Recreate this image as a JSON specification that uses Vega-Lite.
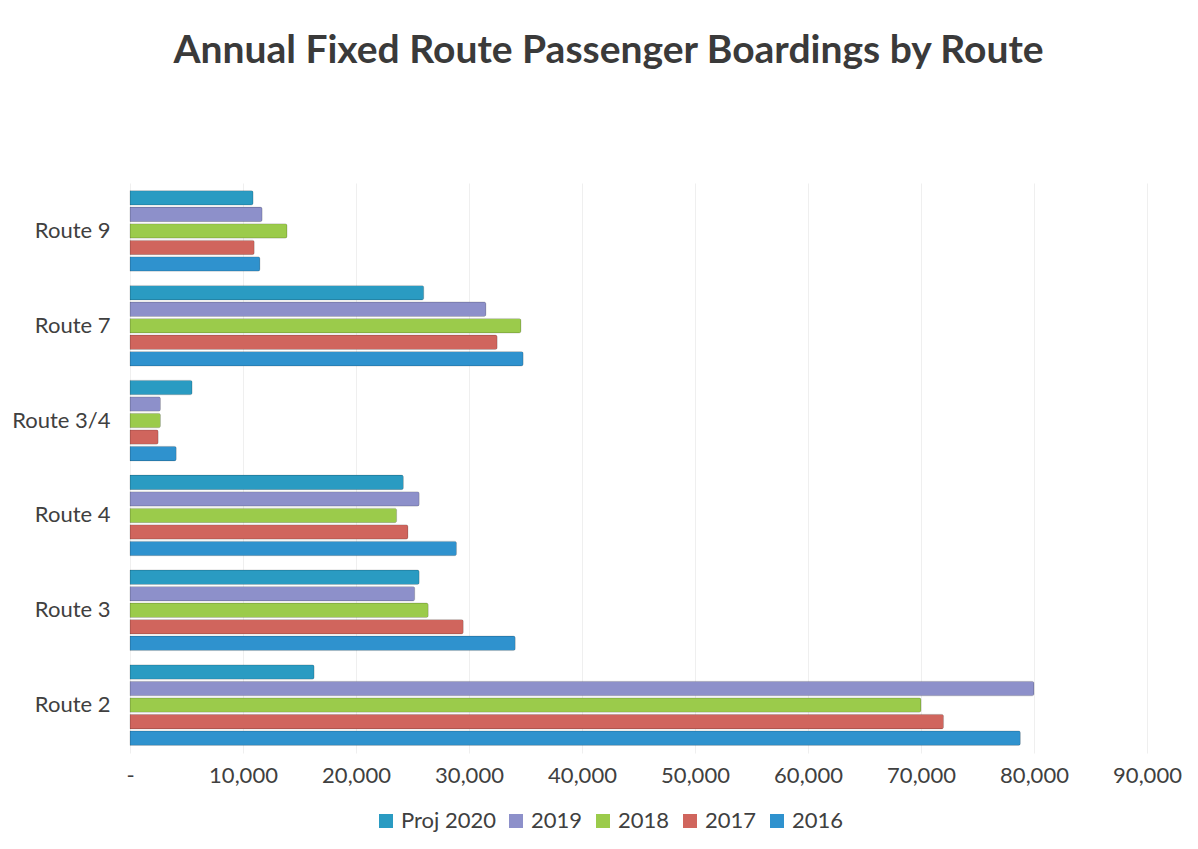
{
  "$schema": "https://vega.github.io/schema/vega-lite/v6.json",
  "width": 1017,
  "height": 570,
  "autosize": {"type": "none"},
  "padding": {"left": 130, "top": 183, "right": 51, "bottom": 96},
  "background": "white",
  "title": {
    "text": "Annual Fixed Route Passenger Boardings by Route",
    "anchor": "middle",
    "dx": -30,
    "offset": 112,
    "fontSize": 39,
    "font": "Lato",
    "fontWeight": "bold",
    "color": "#3a3a3a"
  },
  "data": {
    "values": [
      {"route": "Route 9", "series": "Proj 2020", "value": 10900},
      {"route": "Route 9", "series": "2019", "value": 11700},
      {"route": "Route 9", "series": "2018", "value": 13900},
      {"route": "Route 9", "series": "2017", "value": 11000},
      {"route": "Route 9", "series": "2016", "value": 11500},
      {"route": "Route 7", "series": "Proj 2020", "value": 26000},
      {"route": "Route 7", "series": "2019", "value": 31500},
      {"route": "Route 7", "series": "2018", "value": 34600},
      {"route": "Route 7", "series": "2017", "value": 32500},
      {"route": "Route 7", "series": "2016", "value": 34800},
      {"route": "Route 3/4", "series": "Proj 2020", "value": 5500},
      {"route": "Route 3/4", "series": "2019", "value": 2700},
      {"route": "Route 3/4", "series": "2018", "value": 2700},
      {"route": "Route 3/4", "series": "2017", "value": 2500},
      {"route": "Route 3/4", "series": "2016", "value": 4100},
      {"route": "Route 4", "series": "Proj 2020", "value": 24200},
      {"route": "Route 4", "series": "2019", "value": 25600},
      {"route": "Route 4", "series": "2018", "value": 23600},
      {"route": "Route 4", "series": "2017", "value": 24600},
      {"route": "Route 4", "series": "2016", "value": 28900},
      {"route": "Route 3", "series": "Proj 2020", "value": 25600},
      {"route": "Route 3", "series": "2019", "value": 25200},
      {"route": "Route 3", "series": "2018", "value": 26400},
      {"route": "Route 3", "series": "2017", "value": 29500},
      {"route": "Route 3", "series": "2016", "value": 34100},
      {"route": "Route 2", "series": "Proj 2020", "value": 16300},
      {"route": "Route 2", "series": "2019", "value": 80000},
      {"route": "Route 2", "series": "2018", "value": 70000},
      {"route": "Route 2", "series": "2017", "value": 72000},
      {"route": "Route 2", "series": "2016", "value": 78800}
    ]
  },
  "mark": {"type": "bar", "cornerRadiusEnd": 2, "stroke": "#00000022", "strokeWidth": 1},
  "encoding": {
    "y": {
      "field": "route",
      "type": "nominal",
      "sort": ["Route 9", "Route 7", "Route 3/4", "Route 4", "Route 3", "Route 2"],
      "scale": {"paddingInner": 0.15, "paddingOuter": 0.08},
      "axis": {
        "title": null,
        "domain": false,
        "ticks": false,
        "labelPadding": 20,
        "labelFontSize": 22,
        "labelFont": "Lato",
        "labelColor": "#404040"
      }
    },
    "yOffset": {
      "field": "series",
      "type": "nominal",
      "sort": ["Proj 2020", "2019", "2018", "2017", "2016"],
      "scale": {"paddingInner": 0.12}
    },
    "x": {
      "field": "value",
      "type": "quantitative",
      "scale": {"domain": [0, 90000], "nice": false},
      "axis": {
        "title": null,
        "domain": false,
        "ticks": false,
        "values": [0, 10000, 20000, 30000, 40000, 50000, 60000, 70000, 80000, 90000],
        "labelExpr": "datum.value == 0 ? '-' : format(datum.value, ',')",
        "labelFlush": false,
        "labelPadding": 12,
        "labelFontSize": 22,
        "labelFont": "Lato",
        "labelColor": "#404040",
        "gridColor": "#efefef",
        "gridWidth": 1
      }
    },
    "color": {
      "field": "series",
      "type": "nominal",
      "sort": ["Proj 2020", "2019", "2018", "2017", "2016"],
      "scale": {
        "domain": ["Proj 2020", "2019", "2018", "2017", "2016"],
        "range": ["#2A9BC2", "#8D90CA", "#9BCB4B", "#D0655D", "#2F92CE"]
      },
      "legend": {
        "title": null,
        "orient": "none",
        "direction": "horizontal",
        "legendX": 245,
        "legendY": 627,
        "symbolType": "square",
        "symbolSize": 196,
        "symbolStrokeWidth": 0,
        "labelFontSize": 22,
        "labelFont": "Lato",
        "labelColor": "#404040",
        "labelOffset": 4,
        "columnPadding": 9
      }
    }
  },
  "config": {"view": {"stroke": null}}
}
